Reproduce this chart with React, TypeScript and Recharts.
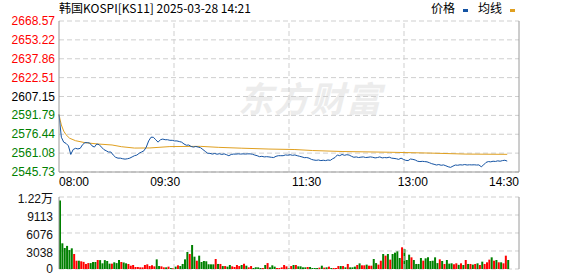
import {
  ComposedChart, Line, Bar, Cell, XAxis, YAxis,
  CartesianGrid, ReferenceLine,
} from "recharts";

const PREV_CLOSE = 2607.15;
const SESSION = 390; // minutes, 08:00 -> 14:30

const PRICE_TICKS = [
  2545.73, 2561.08, 2576.44, 2591.79, 2607.15,
  2622.51, 2637.86, 2653.22, 2668.57,
];
const VOL_TICKS = [0, 3038, 6076, 9113, 12151];
const TIME_TICKS = [0, 90, 210, 300, 390];
const TIME_LABELS = ["08:00", "09:30", "11:30", "13:00", "14:30"];

// one value every 2 minutes, from 08:00 to 14:20
const price = [
  2592.5, 2574, 2570, 2569, 2567, 2560, 2564, 2565, 2564.5, 2565,
  2568, 2569.6, 2569.6, 2569.3, 2567, 2566, 2568.5, 2568, 2566, 2564,
  2563, 2562, 2562, 2559.5, 2557.7, 2557, 2557, 2556.5, 2556.2, 2556.5,
  2557, 2558, 2559, 2559.5, 2561, 2562, 2563, 2566, 2571, 2574,
  2574, 2572, 2570, 2572, 2572.5, 2572, 2572, 2571.5, 2571.5, 2571,
  2571, 2570.5, 2570, 2568.5, 2567.5, 2567.7, 2566.5, 2566, 2566.5, 2566,
  2565.5, 2564, 2562.5, 2561, 2560.9, 2560.3, 2560.8, 2560.2, 2560.6, 2560,
  2560.5, 2559.8, 2559, 2560, 2560.3, 2560.3, 2560.5, 2560.3, 2560.5, 2560.3,
  2560.5, 2560.5, 2560.2, 2559.5, 2559, 2558.2, 2558.5, 2558, 2558.2, 2558,
  2557.7, 2557.5, 2558.5, 2559, 2559, 2559, 2559.6, 2559.4, 2559.8, 2559.3,
  2559.6, 2559, 2558.5, 2558, 2557.4, 2557.5, 2557, 2556, 2555.5, 2555.2,
  2555.5, 2555, 2555.3, 2555, 2555.5, 2555.2, 2556.5, 2557.5, 2559.6, 2559,
  2560, 2559.3, 2559.8, 2559.5, 2558.5, 2557.7, 2558, 2557.5, 2557.8, 2558,
  2557.5, 2557.7, 2558, 2557.7, 2557.2, 2557.5, 2558, 2557.2, 2557.5, 2557.3,
  2557.8, 2557, 2556.8, 2556.5, 2556, 2557, 2556, 2555.2, 2555, 2556.3,
  2556, 2555.5, 2554.5, 2554.2, 2554.4, 2554.2, 2554, 2553.3, 2552.5, 2552,
  2551.4, 2551.8, 2551.2, 2551.5, 2550.8, 2550, 2549.5, 2550.5, 2551.4, 2551.2,
  2551.6, 2551.4, 2551.8, 2551.4, 2551.6, 2551.5, 2551.6, 2551.4, 2551.5, 2550,
  2551.5, 2553.5, 2554.2, 2554, 2554.5, 2554.3, 2554.8, 2554.5, 2555, 2555.3, 2554.6,
];

const volume = [
  11540, 4335, 3550, 3900, 3200, 3490, 2530, 1400, 1400, 1300,
  1200, 850, 1000, 1000, 1180, 1180, 1520, 1500, 960, 1500,
  1350, 900, 900, 1130, 1000, 1520, 1180, 1100, 960, 850,
  560, 680, 340, 340, 280, 280, 680, 790, 500, 620,
  450, 1630, 500, 450, 280, 280, 400, 170, 170, 400,
  620, 500, 850, 1630, 2870, 2530, 4050, 2080, 1400, 2250,
  1180, 1350, 1300, 800, 790, 790, 1690, 850, 850, 500,
  500, 400, 680, 450, 340, 680, 500, 680, 900, 560,
  280, 500, 170, 280, 280, 170, 170, 680, 1000, 280,
  620, 400, 170, 170, 280, 680, 450, 170, 500, 680,
  680, 450, 450, 280, 280, 340, 340, 170, 170, 170,
  230, 560, 230, 280, 400, 170, 170, 170, 500, 500,
  500, 280, 850, 280, 280, 400, 680, 950, 620, 620,
  740, 560, 560, 1690, 1000, 740, 1400, 2530, 2250, 2530,
  1580, 2530, 2760, 2980, 1860, 3660, 3380, 1520, 2420, 1970,
  1520, 850, 850, 1860, 1410, 1800, 1970, 1350, 1400, 1970,
  1000, 1630, 1350, 850, 1520, 900, 960, 800, 960, 700,
  960, 680, 1520, 850, 850, 740, 850, 960, 680, 1240,
  850, 1130, 1580, 1970, 1400, 1520, 1130, 1130, 960, 2250, 1520,
];

// average price line
const avgMinutes = [0, 1, 2, 4, 6, 9, 14, 22, 33, 45, 53, 64, 77, 94, 120, 135, 155, 178, 200, 215, 240, 280, 315, 345, 380];
const avgPrice = [
  2592.5, 2588, 2584, 2579, 2576, 2573.2, 2571.2, 2569.6, 2568.5, 2567.7,
  2566.3, 2565.2, 2565.3, 2566.4, 2566.6, 2565.8, 2565.1, 2564.4, 2564, 2563.2,
  2562.4, 2561.8, 2561.1, 2560.3, 2560.1,
];

const priceData = price.map((p, i) => ({ t: i * 2, price: p }));
const avgData = avgMinutes.map((t, i) => ({ t, avg: avgPrice[i] }));
const volData = volume.map((v, i) => ({
  t: i * 2 + 1,
  vol: v,
  up: i === 0 ? price[0] >= PREV_CLOSE : price[i] >= price[i - 1],
}));

const FONT = '"Liberation Sans", Arial, "Noto Sans CJK SC", sans-serif';
const BORDER = "#9a9a9a";
const GRID = "#cfcfcf";
const RED = "#ff0000";
const GREEN = "#008000";
const QUARTERS = [SESSION * 0.25, SESSION * 0.5, SESSION * 0.75];

function colorOf(v: number) {
  if (Math.abs(v - PREV_CLOSE) < 0.01) return "#000";
  return v > PREV_CLOSE ? RED : GREEN;
}

function LeftPriceTick({ x, y, payload }: any) {
  return (
    <text x={x} y={y} dy={4} textAnchor="end" fontSize={12} fontFamily={FONT} fill={colorOf(payload.value)}>
      {payload.value.toFixed(2)}
    </text>
  );
}

function RightPctTick({ x, y, payload }: any) {
  const pct = Math.abs(((payload.value - PREV_CLOSE) / PREV_CLOSE) * 100);
  return (
    <text x={x} y={y} dy={4} textAnchor="start" fontSize={12} fontFamily={FONT} fill={colorOf(payload.value)}>
      {pct.toFixed(2)}%
    </text>
  );
}

function TimeTick({ x, y, payload, index }: any) {
  const anchor = index === 0 ? "start" : index === TIME_TICKS.length - 1 ? "end" : "middle";
  return (
    <text x={x} y={y} dy={14} textAnchor={anchor} fontSize={12} fontFamily={FONT} fill="#000">
      {TIME_LABELS[TIME_TICKS.indexOf(payload.value)]}
    </text>
  );
}

function VolTick({ x, y, payload }: any) {
  const v = payload.value;
  const label = v >= 10000 ? (v / 10000).toFixed(2) + "万" : String(v);
  return (
    <text x={x} y={y} dy={v === 0 ? 4 : 6} textAnchor="end" fontSize={12} fontFamily={FONT} fill="#111">
      {label}
    </text>
  );
}

export default function App() {
  return (
    <div style={{ position: "fixed", left: 0, top: 0, width: 578, height: 276, background: "#fff", fontFamily: FONT, overflow: "hidden" }}>
      <div style={{ position: "absolute", left: 238, top: 76, fontSize: 35, fontWeight: 700, fontStyle: "italic", color: "#ececec", fontFamily: '"Noto Sans CJK SC", sans-serif', letterSpacing: 1, lineHeight: "42px" }}>
        东方财富
      </div>
      <div style={{ position: "absolute", left: 59, top: 0, fontSize: 12, lineHeight: "16px", color: "#000", fontFamily: '"Noto Sans CJK SC", sans-serif' }}>
        韩国KOSPI[KS11] 2025-03-28 14:21
      </div>
      <div style={{ position: "absolute", left: 431, top: 0, fontSize: 12, lineHeight: "16px", color: "#000", fontFamily: '"Noto Sans CJK SC", sans-serif', display: "flex", alignItems: "center" }}>
        <span>价格</span>
        <span style={{ display: "inline-block", width: 5, height: 3, background: "#1453a3", margin: "5px 10px 0 8px" }} />
        <span>均线</span>
        <span style={{ display: "inline-block", width: 5, height: 3, background: "#e0a020", margin: "5px 0 0 8px" }} />
      </div>

      <div style={{ position: "absolute", left: 0, top: 0 }}>
        <ComposedChart width={578} height={190} data={priceData} margin={{ top: 21, right: 0, bottom: 0, left: 0 }}>
          <CartesianGrid vertical={false} stroke={GRID} strokeDasharray="5 3" />
          <XAxis dataKey="t" type="number" domain={[0, SESSION]} ticks={TIME_TICKS} interval={0}
            height={18} tickLine={false} tickSize={0} tickMargin={0}
            axisLine={{ stroke: BORDER }} tick={<TimeTick />} />
          <XAxis xAxisId="top" orientation="top" dataKey="t" type="number" domain={[0, SESSION]}
            height={0} tick={false} tickLine={false} axisLine={{ stroke: BORDER }} />
          <YAxis type="number" domain={[PRICE_TICKS[0], PRICE_TICKS[PRICE_TICKS.length - 1]]}
            ticks={PRICE_TICKS} interval={0} width={59} tickLine={false} tickSize={0} tickMargin={4}
            axisLine={{ stroke: BORDER }} tick={<LeftPriceTick />} />
          <YAxis yAxisId="right" orientation="right" type="number"
            domain={[PRICE_TICKS[0], PRICE_TICKS[PRICE_TICKS.length - 1]]}
            ticks={PRICE_TICKS} interval={0} width={59} tickLine={false} tickSize={0} tickMargin={5}
            axisLine={{ stroke: BORDER }} tick={<RightPctTick />} />
          {QUARTERS.map((q) => (
            <ReferenceLine key={q} x={q} stroke={GRID} strokeDasharray="5 3" />
          ))}
          <Line data={avgData} dataKey="avg" type="linear" stroke="#e0a020" strokeWidth={1}
            dot={false} isAnimationActive={false} />
          <Line dataKey="price" type="linear" stroke="#1453a3" strokeWidth={1}
            dot={false} isAnimationActive={false} />
        </ComposedChart>
      </div>

      <div style={{ position: "absolute", left: 0, top: 190 }}>
        <ComposedChart width={578} height={86} data={volData} margin={{ top: 7, right: 0, bottom: 7, left: 0 }}>
          <CartesianGrid vertical={false} stroke={GRID} strokeDasharray="5 3" />
          <XAxis dataKey="t" type="number" domain={[0, SESSION]} height={0} tick={false}
            tickLine={false} axisLine={{ stroke: BORDER }} />
          <XAxis xAxisId="top" orientation="top" dataKey="t" type="number" domain={[0, SESSION]}
            height={0} tick={false} tickLine={false} axisLine={{ stroke: BORDER }} />
          <YAxis type="number" domain={[0, VOL_TICKS[VOL_TICKS.length - 1]]} ticks={VOL_TICKS}
            interval={0} width={59} tickLine={false} tickSize={0} tickMargin={6}
            axisLine={{ stroke: BORDER }} tick={<VolTick />} />
          <YAxis yAxisId="right" orientation="right" type="number"
            domain={[0, VOL_TICKS[VOL_TICKS.length - 1]]} width={59} tick={false}
            tickLine={false} axisLine={{ stroke: BORDER }} />
          {QUARTERS.map((q) => (
            <ReferenceLine key={q} x={q} stroke={GRID} strokeDasharray="5 3" />
          ))}
          <Bar dataKey="vol" barSize={2} isAnimationActive={false}>
            {volData.map((d, i) => (
              <Cell key={i} fill={d.up ? RED : GREEN} />
            ))}
          </Bar>
        </ComposedChart>
      </div>
    </div>
  );
}
